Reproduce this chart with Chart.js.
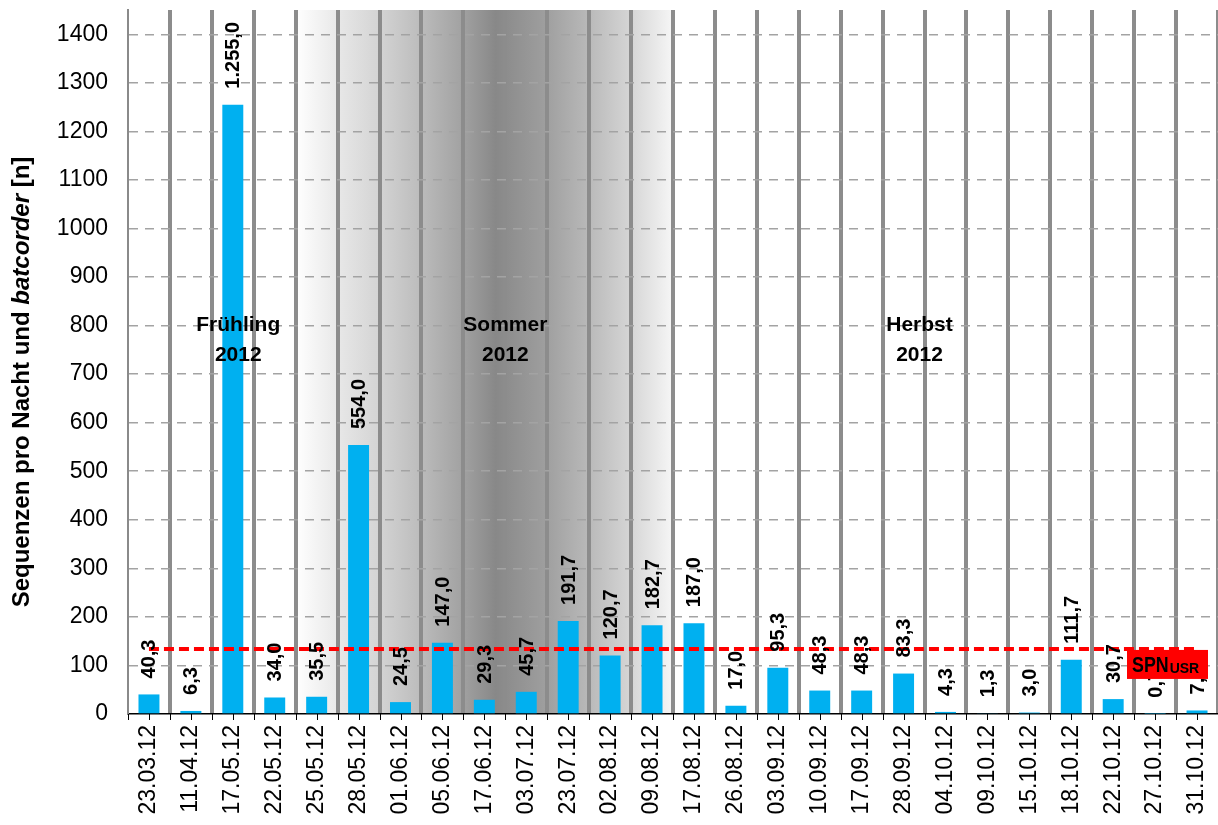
<!DOCTYPE html>
<html lang="de">
<head>
<meta charset="utf-8">
<title>Sequenzen pro Nacht 2012</title>
<script src="https://cdn.jsdelivr.net/npm/chart.js@4.4.1/dist/chart.umd.min.js"></script>
<style>
  html, body { margin: 0; padding: 0; background: #ffffff; }
  #wrap { width: 1218px; height: 825px; position: relative; }
</style>
</head>
<body>
<div id="wrap"><canvas id="chart" width="1218" height="825"></canvas></div>
<script>
// Erfassungsnächte 2012
const nights = [
  '23.03.12', '11.04.12', '17.05.12', '22.05.12', '25.05.12', '28.05.12', '01.06.12',
  '05.06.12', '17.06.12', '03.07.12', '23.07.12', '02.08.12', '09.08.12', '17.08.12',
  '26.08.12', '03.09.12', '10.09.12', '17.09.12', '28.09.12', '04.10.12', '09.10.12',
  '15.10.12', '18.10.12', '22.10.12', '27.10.12', '31.10.12'
];

// Sequenzen pro Nacht und batcorder
const sequences = [
  40.3, 6.3, 1255.0, 34.0, 35.5, 554.0, 24.5,
  147.0, 29.3, 45.7, 191.7, 120.7, 182.7, 187.0,
  17.0, 95.3, 48.3, 48.3, 83.3, 4.3, 1.3,
  3.0, 111.7, 30.7, 0.7, 7.3
];

// Schwellenwert SPN(USR)
const spnUsr = 134;

// Jahreszeiten-Beschriftungen
const seasonNames = ['Frühling', 'Sommer', 'Herbst'];
const seasonYear = '2012';

const FONT = '"Liberation Sans", Arial, Helvetica, sans-serif';

function formatDe(v) {
  const parts = v.toFixed(1).split('.');
  const intPart = parts[0].replace(/\B(?=(\d{3})+(?!\d))/g, '.');
  return intPart + ',' + parts[1];
}

// Achsen ohne zusätzlichen Randabstand für überstehende Beschriftungen
function fixPadding(s) {
  s.paddingTop = 0;
  s.paddingBottom = 0;
  s.paddingLeft = 0;
  s.paddingRight = 0;
}

// Grauer Verlauf hinter dem Sommerzeitraum
const summerShade = {
  id: 'summerShade',
  beforeDraw(chart, args, opts) {
    const { ctx, chartArea } = chart;
    const x = chart.scales.x;
    ctx.save();
    ctx.fillStyle = '#ffffff';
    ctx.fillRect(0, 0, chart.width, chart.height);
    const x0 = x.getPixelForValue(opts.from);
    const x1 = x.getPixelForValue(opts.to);
    const g = ctx.createLinearGradient(x0, 0, x1, 0);
    g.addColorStop(0.00, '#ffffff');
    g.addColorStop(0.11, '#e8e8e8');
    g.addColorStop(0.22, '#d4d4d4');
    g.addColorStop(0.33, '#bcbcbc');
    g.addColorStop(0.44, '#a2a2a2');
    g.addColorStop(0.53, '#888888');
    g.addColorStop(0.66, '#9e9e9e');
    g.addColorStop(0.78, '#bababa');
    g.addColorStop(0.89, '#d6d6d6');
    g.addColorStop(1.00, '#f6f6f6');
    ctx.fillStyle = g;
    ctx.fillRect(x0, chartArea.top, x1 - x0, chartArea.bottom - chartArea.top);
    ctx.restore();
  }
};

// Kleine Teilstriche unter der x-Achse (Kategoriegrenzen und -mitten)
const axisTicks = {
  id: 'axisTicks',
  afterDraw(chart) {
    const { ctx, chartArea } = chart;
    const x = chart.scales.x;
    ctx.save();
    ctx.strokeStyle = '#000000';
    ctx.lineWidth = 1;
    ctx.beginPath();
    for (let k = 0; k <= nights.length * 2; k++) {
      const px = Math.round(x.getPixelForValue(k / 2 - 0.5)) + 0.5;
      ctx.moveTo(px, chartArea.bottom);
      ctx.lineTo(px, chartArea.bottom + 6);
    }
    ctx.stroke();
    ctx.restore();
  }
};

// Wertbeschriftungen, Jahreszeiten, SPN-Kennzeichnung
const annotations = {
  id: 'annotations',
  afterDatasetsDraw(chart, args, opts) {
    const { ctx, chartArea } = chart;
    const x = chart.scales.x;
    const y = chart.scales.y;
    const meta = chart.getDatasetMeta(1);

    ctx.save();
    ctx.fillStyle = '#000000';
    ctx.font = 'bold 20px ' + FONT;
    ctx.textAlign = 'left';
    ctx.textBaseline = 'middle';
    meta.data.forEach((bar, i) => {
      ctx.save();
      ctx.translate(bar.x + 1, bar.y - 16);
      ctx.rotate(-Math.PI / 2);
      ctx.fillText(formatDe(sequences[i]), 0, 0);
      ctx.restore();
    });

    // Jahreszeiten
    ctx.font = 'bold 21px ' + FONT;
    ctx.textAlign = 'center';
    ctx.textBaseline = 'alphabetic';
    opts.seasonAt.forEach((pos, i) => {
      const px = x.getPixelForValue(pos);
      ctx.fillText(seasonNames[i], px, opts.seasonLine1);
      ctx.fillText(seasonYear, px, opts.seasonLine1 + 30);
    });

    // SPN(USR) Kasten
    const boxTop = y.getPixelForValue(spnUsr) + 1;
    const boxRight = chartArea.right - 10;
    const boxLeft = boxRight - 81;
    ctx.fillStyle = '#ff0000';
    ctx.fillRect(boxLeft, boxTop, 81, 29);
    ctx.fillStyle = '#000000';
    ctx.textAlign = 'left';
    ctx.save();
    ctx.translate(boxLeft + 5, boxTop + 22);
    ctx.save();
    ctx.scale(0.81, 1);
    ctx.font = 'bold 22px ' + FONT;
    ctx.fillText('SPN', 0, 0);
    const w = ctx.measureText('SPN').width * 0.81;
    ctx.restore();
    ctx.font = 'bold 14px ' + FONT;
    ctx.fillText('USR', w + 1, 1);
    ctx.restore();
    ctx.restore();
  },
  afterDraw(chart) {
    // y-Achsentitel mit kursivem „batcorder“
    const { ctx } = chart;
    const parts = [
      { t: 'Sequenzen pro Nacht und ', f: 'bold 24px ' + FONT },
      { t: 'batcorder', f: 'italic bold 24px ' + FONT },
      { t: ' [n]', f: 'bold 24px ' + FONT }
    ];
    ctx.save();
    let total = 0;
    parts.forEach(p => { ctx.font = p.f; p.w = ctx.measureText(p.t).width; total += p.w; });
    ctx.translate(22, 382);
    ctx.rotate(-Math.PI / 2);
    ctx.fillStyle = '#000000';
    ctx.textBaseline = 'middle';
    ctx.textAlign = 'left';
    let cx = -total / 2;
    parts.forEach(p => { ctx.font = p.f; ctx.fillText(p.t, cx, 0); cx += p.w; });
    ctx.restore();
  }
};

const ctx = document.getElementById('chart').getContext('2d');
new Chart(ctx, {
  data: {
    labels: nights,
    datasets: [
      {
        type: 'line',
        label: 'SPN USR',
        data: nights.map(() => spnUsr),
        borderColor: '#ff0000',
        borderWidth: 4,
        borderDash: [10, 5],
        pointRadius: 0,
        fill: false,
        order: 0
      },
      {
        type: 'bar',
        label: 'Sequenzen',
        data: sequences,
        backgroundColor: '#00b0f0',
        borderWidth: 0,
        categoryPercentage: 1.0,
        barPercentage: 0.5,
        order: 1
      }
    ]
  },
  options: {
    responsive: false,
    animation: false,
    events: [],
    layout: { padding: { top: 10, right: 0, bottom: 0, left: 0 } },
    plugins: {
      legend: { display: false },
      tooltip: { enabled: false },
      title: { display: false },
      summerShade: { from: 3.5, to: 12.5 },
      annotations: { seasonAt: [2.13, 8.5, 18.38], seasonLine1: 331 }
    },
    scales: {
      x: {
        offset: true,
        grid: {
          offset: true,
          drawTicks: false,
          lineWidth: 4,
          color: (c) => (c.index === 0 || c.index === nights.length) ? 'rgba(0,0,0,0)' : '#8c8c8c'
        },
        border: { display: true, color: '#000000', width: 1.5 },
        ticks: {
          autoSkip: false,
          minRotation: 90,
          maxRotation: 90,
          padding: 11,
          color: '#000000',
          font: { family: FONT, size: 23 }
        },
        afterFit: (s) => { s.height = 111; fixPadding(s); }
      },
      y: {
        min: 0,
        max: 1450,
        grid: {
          drawTicks: false,
          lineWidth: 1.5,
          color: (c) => c.tick && c.tick.value === 0 ? 'rgba(0,0,0,0)' : '#a3a3a3'
        },
        border: { display: true, color: '#8a8a8a', width: 2, dash: [9, 7] },
        ticks: {
          stepSize: 50,
          padding: 20,
          color: '#000000',
          font: { family: FONT, size: 23 },
          callback: (v) => (v % 100 === 0 ? String(v) : '')
        },
        afterFit: (s) => { s.width = 128; fixPadding(s); }
      }
    }
  },
  plugins: [summerShade, annotations, axisTicks]
});
</script>
</body>
</html>
